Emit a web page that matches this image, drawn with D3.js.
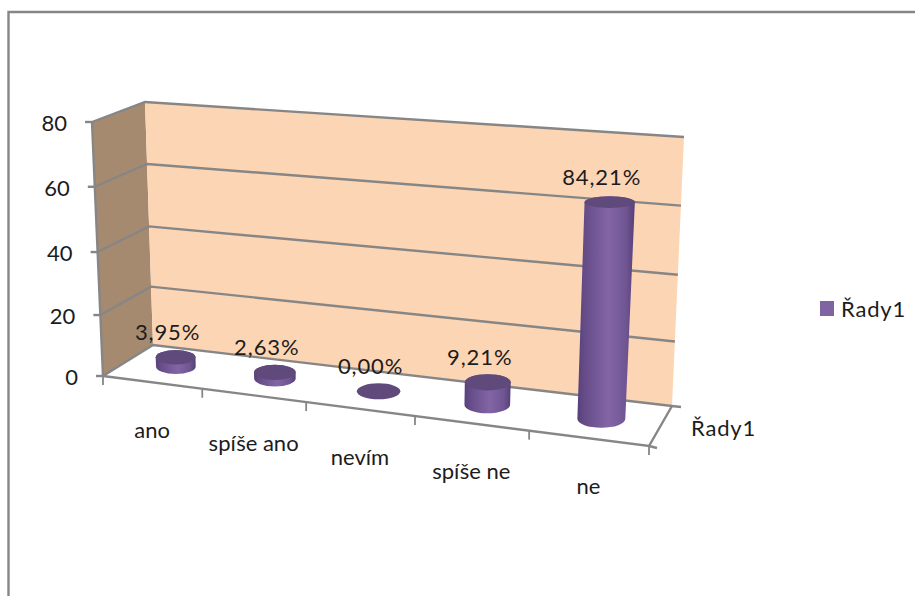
<!DOCTYPE html>
<html lang="cs">
<head>
<meta charset="utf-8">
<title>Řady1</title>
<script src="https://cdn.jsdelivr.net/npm/d3@7"></script>
<style>
  html, body { margin: 0; background: #fff; }
  svg { display: block; }
  text { font-family: Lato, "Open Sans", sans-serif; fill: #1c1c1c; }
</style>
</head>
<body>
<svg id="chart" width="915" height="596"></svg>
<script>
// Survey answers and respondent counts; the percentages are derived from these.
const categories = ["ano", "spíše ano", "nevím", "spíše ne", "ne"];
const counts = [3, 2, 0, 7, 64];
const seriesName = "Řady1";
const yTicks = [0, 20, 40, 60, 80];

const total = d3.sum(counts);
const percent = d3.formatLocale({ decimal: ",", thousands: " ", grouping: [3], currency: ["", ""] }).format(".2%");

const GRID = "#868686";
const svg = d3.select("#chart");

// Box corners of the 3D plot: f = front, b = back, l = left, r = right; 0 = floor, 1 = top.
const box = {
  fl0: [103, 376], fr0: [649, 446], bl0: [153, 345], br0: [672, 406],
  fl1: [92, 122],  fr1: [663, 165], bl1: [145, 102], br1: [684, 137]
};

// Upper bands of the value axis look slightly taller through the camera.
const y = d3.scaleLinear().domain(yTicks).range([0, 0.24, 0.488, 0.745, 1]);
const cat = d3.scaleBand().domain(categories).range([0, 1]);
const foreshorten = 1.125;                         // nearer cells on the right appear wider
const persp = u => u / (u + foreshorten * (1 - u));
const mix = (a, b, t) => [a[0] + (b[0] - a[0]) * t, a[1] + (b[1] - a[1]) * t];

// Maps (u across categories, v into depth, h up the value axis) to the page.
function project(u, v, h) {
  const p = persp(u);
  const floor = mix(mix(box.fl0, box.fr0, p), mix(box.bl0, box.br0, p), v);
  const top = mix(mix(box.fl1, box.fr1, p), mix(box.bl1, box.br1, p), v);
  return mix(floor, top, h);
}

const line = d3.line();
const poly = pts => line(pts) + "Z";

const defs = svg.append("defs");
const sideGrad = defs.append("linearGradient").attr("id", "cylinderSide");
[[0, "#57407a"], [0.12, "#654c88"], [0.55, "#8365a6"], [0.85, "#6f5592"], [1, "#55407a"]]
  .forEach(([o, c]) => sideGrad.append("stop").attr("offset", o).attr("stop-color", c));

// Chart frame: only the top and left edges fall inside the page.
svg.append("path").attr("d", line([[8.5, 596], [8.5, 12], [915, 12]]))
  .attr("fill", "none").attr("stroke", GRID).attr("stroke-width", 2.4);

// Walls and floor
svg.append("path").attr("d", poly([box.fl0, box.fl1, box.bl1, box.bl0])).attr("fill", "#a58a70");
svg.append("path").attr("d", poly([box.bl0, box.bl1, box.br1, box.br0])).attr("fill", "#fcd5b5");
svg.append("path").attr("d", poly([box.fl0, box.fr0, box.br0, box.bl0])).attr("fill", "#fff");

const stroke = (sel, w) => sel.attr("fill", "none").attr("stroke", GRID).attr("stroke-width", w);

// Gridlines wrap from the left wall onto the back wall.
yTicks.forEach(t => {
  const h = y(t);
  const pts = [mix(box.fl0, box.fl1, h), mix(box.bl0, box.bl1, h), mix(box.br0, box.br1, h)];
  stroke(svg.append("path").attr("d", line(pts)), 2.4);
  const a = pts[0];
  stroke(svg.append("path").attr("d", line([[a[0] - 7, a[1]], a])), 2.4);
  svg.append("text")
    .attr("x", a[0] - 25).attr("y", a[1] + 9)
    .attr("text-anchor", "end").attr("font-size", 22).text(t);
});

// Value axis edge and floor edges
stroke(svg.append("path").attr("d", line([box.fl0, box.fl1])), 2.4);
stroke(svg.append("path").attr("d", line([box.fl0, box.fr0, box.br0])), 2.4);
stroke(svg.append("path").attr("d", line([box.br0, [box.br0[0] + 9, box.br0[1] + 1]])), 2.4);
stroke(svg.append("path").attr("d", line([box.fr0, [box.fr0[0] + 8, box.fr0[1] + 2]])), 2.4);

// Category ticks along the front edge
d3.range(categories.length + 1).forEach(i => {
  const p = project(i / categories.length, 0, 0);
  stroke(svg.append("path").attr("d", line([p, [p[0], p[1] + 9]])), 1.8);
});

// Cylinders, one per answer
categories.forEach((c, i) => {
  const u = cat(c) + cat.bandwidth() / 2;
  const v = 0.5;
  const h = y(counts[i]);
  const base = project(u, v, 0);
  const top = project(u, v, h);
  const cell = project(cat(c) + cat.bandwidth(), v, 0)[0] - project(cat(c), v, 0)[0];
  const rx = cell * 0.205;
  const topRx = rx * (1 + 0.05 * h / 0.8);
  const ryBase = rx * 0.38;
  const ryTop = topRx * (0.37 - 0.14 * h / 0.8);
  if (counts[i] > 0) {
    const d = `M${base[0] - rx},${base[1]}`
      + `A${rx},${ryBase} 0 0 0 ${base[0] + rx},${base[1]}`
      + `L${top[0] + topRx},${top[1]}`
      + `A${topRx},${ryTop} 0 0 0 ${top[0] - topRx},${top[1]}Z`;
    svg.append("path").attr("d", d).attr("fill", "url(#cylinderSide)");
  }
  svg.append("ellipse")
    .attr("cx", top[0]).attr("cy", top[1])
    .attr("rx", topRx).attr("ry", ryTop)
    .attr("fill", "#5f4a7b");

  svg.append("text")
    .attr("x", top[0] - 8).attr("y", top[1] - 17)
    .attr("text-anchor", "middle").attr("font-size", 22).attr("letter-spacing", 0.9)
    .text(percent(counts[i] / total));

  const edge = project(u, 0, 0);
  svg.append("text")
    .attr("x", edge[0]).attr("y", edge[1] + 56)
    .attr("text-anchor", "middle").attr("font-size", 22)
    .text(c);
});

// Depth axis label
svg.append("text")
  .attr("x", 691).attr("y", 436).attr("font-size", 22).attr("letter-spacing", 0.8)
  .text(seriesName);

// Legend
svg.append("rect").attr("x", 820).attr("y", 301).attr("width", 14).attr("height", 15).attr("fill", "#8064a2");
svg.append("text")
  .attr("x", 841).attr("y", 317).attr("font-size", 22).attr("letter-spacing", 0.8)
  .text(seriesName);
</script>
</body>
</html>
